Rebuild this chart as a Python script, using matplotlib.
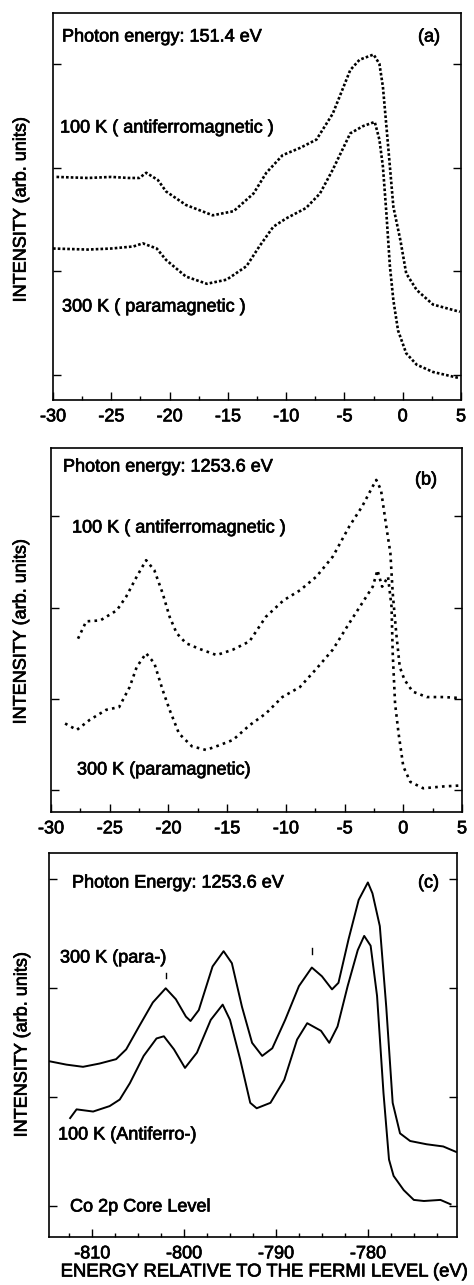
import numpy as np
import matplotlib
matplotlib.use('Agg')
from matplotlib import pyplot as plt
from matplotlib import patheffects as pe
from matplotlib.ticker import MultipleLocator, NullFormatter

plt.rcParams['font.family'] = ['Liberation Sans', 'DejaVu Sans']
plt.rcParams['font.size'] = 13
plt.rcParams['axes.unicode_minus'] = False

# (a) hv = 151.4 eV
a_x_100 = [-29.7, -27, -25, -23.5, -22.6, -22, -21, -20.3, -18.6, -16.3, -14.5, -12.8, -11.7,
           -10.3, -8.8, -7.4, -6, -4.5, -3.7, -2.5, -2.0, -1.7, -1.4, -1.1, -0.8, -0.2, 0.3,
           1.2, 2.6, 4.9]
a_y_100 = [2.91, 2.90, 2.91, 2.90, 2.90, 2.95, 2.88, 2.77, 2.64, 2.54, 2.58, 2.75, 2.95,
           3.12, 3.19, 3.27, 3.52, 3.94, 4.04, 4.09, 4.00, 3.78, 3.40, 3.01, 2.62, 2.30, 1.98,
           1.82, 1.68, 1.61]
a_x_300 = [-30, -27, -25, -23.1, -22.3, -21.1, -20.3, -18.6, -16.8, -15.1, -13.4, -12.3, -11.1,
           -10, -8.3, -7.1, -6, -4.5, -3.4, -2.4, -2.0, -1.7, -1.4, -1.1, -0.8, -0.4, 0.3,
           1.2, 2.6, 4.9]
a_y_300 = [2.22, 2.21, 2.22, 2.24, 2.27, 2.22, 2.11, 1.95, 1.88, 1.92, 2.05, 2.24, 2.43,
           2.51, 2.61, 2.75, 2.98, 3.33, 3.40, 3.44, 3.27, 3.01, 2.56, 2.05, 1.72, 1.43, 1.21,
           1.10, 1.03, 0.97]

# (b) hv = 1253.6 eV
b_x_100 = [-27.7, -27, -25.8, -24.4, -23.6, -22.7, -21.9, -21.2, -20.5, -19.9, -19.3, -18.5,
           -17.4, -15.9, -14.5, -13.1, -11.7, -10.2, -8.8, -7.4, -6, -4.6, -3.5, -2.6, -2.3,
           -1.9, -1.4, -1.1, -0.9, -0.6, -0.3, 0.1, 0.8, 2.0, 3.4, 4.8]
b_y_100 = [2.66, 2.85, 2.86, 2.97, 3.12, 3.34, 3.52, 3.41, 3.16, 2.90, 2.72, 2.61,
           2.55, 2.48, 2.54, 2.63, 2.90, 3.08, 3.19, 3.34, 3.56, 3.89, 4.11, 4.33, 4.40,
           4.29, 3.85, 3.60, 3.16, 2.72, 2.35, 2.21, 2.08, 2.02, 2.02, 2.01]
b_x_300 = [-28.8, -27.8, -26.7, -25.3, -24.2, -23.3, -22.7, -21.9, -21.2, -20.5, -19.9, -19.1,
           -18.0, -16.8, -15.7, -14.5, -13.1, -11.7, -10.3, -8.8, -7.4, -6, -4.6, -3.5, -2.6,
           -2.2, -1.8, -1.3, -1.0, -0.9, -0.7, -0.4, 0.0, 0.6, 1.7, 3.4, 4.8]
b_y_300 = [1.73, 1.66, 1.77, 1.88, 1.91, 2.13, 2.35, 2.50, 2.39, 2.10, 1.88, 1.62,
           1.48, 1.44, 1.49, 1.55, 1.71, 1.84, 2.02, 2.13, 2.33, 2.54, 2.83, 3.05, 3.23,
           3.41, 3.23, 3.34, 3.01, 2.50, 1.95, 1.62, 1.26, 1.09, 1.02, 1.04, 1.05]

# (c) Co 2p core level
c_x_300 = [-814.6, -812.8, -811, -809.2, -807.4, -806.3, -804.9, -803.4, -802, -800.9, -799.8,
           -799.3, -798.4, -796.9, -795.7, -794.8, -793.7, -792.6, -791.5, -790.4, -789,
           -787.5, -786.1, -785, -783.9, -783.2, -782.1, -781.0, -780, -779.5, -778.7, -778,
           -777.3, -776.5, -775.4, -773.6, -771.8, -770.4]
c_y_300 = [2.33, 2.30, 2.28, 2.31, 2.35, 2.44, 2.65, 2.87, 3.00, 2.90, 2.74,
           2.70, 2.80, 3.20, 3.34, 3.23, 2.83, 2.50, 2.38, 2.45, 2.71,
           3.02, 3.19, 3.11, 2.99, 3.05, 3.45, 3.81, 3.97, 3.87, 3.57, 2.83,
           1.95, 1.67, 1.60, 1.57, 1.55, 1.50]
c_x_100 = [-812.4, -811.7, -809.9, -808.1, -807, -805.9, -804.4, -803, -802.2, -801.1, -799.9,
           -798.6, -797.1, -795.8, -795, -793.9, -792.8, -792.1, -790.6, -789.1, -787.7,
           -786.6, -785.1, -784.2, -783.3, -782.2, -781.1, -780.4, -779.7, -779, -778.3,
           -777.7, -777.2, -776.1, -775.0, -773.9, -772.1, -771]
c_y_100 = [1.81, 1.89, 1.87, 1.92, 1.98, 2.13, 2.38, 2.54, 2.56, 2.44, 2.27,
           2.41, 2.71, 2.85, 2.71, 2.35, 1.95, 1.90, 1.95, 2.16, 2.53,
           2.68, 2.61, 2.50, 2.65, 3.02, 3.35, 3.48, 3.39, 2.93, 2.04,
           1.43, 1.28, 1.15, 1.06, 1.05, 1.06, 1.02]
c_marks_x = [-802, -786.1]
c_marks_y = [(3.09, 3.14), (3.31, 3.37)]

W, H = 474, 1285
fig = plt.figure(figsize=(W / 100, H / 100), dpi=100)
heavy = [pe.withStroke(linewidth=0.5, foreground='k')]


def make_ax(l, r, t, b):
    ax = fig.add_axes([l / W, 1 - b / H, (r - l) / W, (b - t) / H])
    for s in ax.spines.values():
        s.set_linewidth(1.2)
    ax.tick_params(which='both', direction='in', top=False, right=True, labelleft=False,
                   width=1.0, pad=6, labelsize=13)
    ax.tick_params(which='major', length=6)
    ax.tick_params(which='minor', length=3)
    ax.yaxis.set_major_locator(MultipleLocator(1))
    ax.yaxis.set_minor_locator(plt.NullLocator())
    return ax


def finish_ticks(ax):
    for lab in ax.get_xticklabels():
        lab.set_path_effects(heavy)


def ftext(x, y, s, size=13, **kw):
    fig.text(x / W, 1 - y / H, s, va='center', fontsize=size, path_effects=heavy, **kw)


# panel (a)
ax = make_ax(53, 461, 13, 400)
ax.plot(a_x_100, a_y_100, color='k', ls=(0, (1, 0.8)), lw=1.9)
ax.plot(a_x_300, a_y_300, color='k', ls=(0, (1, 0.8)), lw=1.9)
ax.set_xlim(-30, 5)
ax.set_ylim(0.76, 4.49)
ax.xaxis.set_major_locator(MultipleLocator(5))
ax.xaxis.set_minor_locator(MultipleLocator(2.5))
finish_ticks(ax)
ftext(62, 37, 'Photon energy: 151.4 eV')
ftext(418, 37, '(a)')
ftext(60, 128, '100 K ( antiferromagnetic )')
ftext(62, 307, '300 K ( paramagnetic )')
ftext(21, 210, 'INTENSITY (arb. units)', rotation=90, ha='center')

# panel (b)
ax = make_ax(51, 462, 448, 812)
ax.plot(b_x_100, b_y_100, color='k', ls=(0, (1, 1.6)), lw=1.9)
ax.plot(b_x_300, b_y_300, color='k', ls=(0, (1, 1.6)), lw=1.9)
ax.set_xlim(-30, 5)
ax.set_ylim(0.76, 4.75)
ax.xaxis.set_major_locator(MultipleLocator(5))
ax.xaxis.set_minor_locator(MultipleLocator(2.5))
finish_ticks(ax)
ftext(63, 467, 'Photon energy: 1253.6 eV')
ftext(415, 480, '(b)')
ftext(72, 528, '100 K ( antiferromagnetic )')
ftext(77, 770, '300 K (paramagnetic)')
ftext(21, 632, 'INTENSITY (arb. units)', rotation=90, ha='center')

# panel (c)
ax = make_ax(49, 457, 853, 1237)
ax.plot(c_x_300, c_y_300, color='k', lw=1.4)
ax.plot(c_x_100, c_y_100, color='k', lw=1.4)
for mx, (y0, y1) in zip(c_marks_x, c_marks_y):
    ax.plot([mx, mx], [y0, y1], color='k', lw=1.0)
ax.set_xlim(-814.7, -770.3)
ax.set_ylim(0.72, 4.24)
ax.xaxis.set_major_locator(MultipleLocator(10))
ax.xaxis.set_minor_locator(MultipleLocator(2.5))
ax.xaxis.set_minor_formatter(NullFormatter())
finish_ticks(ax)
ftext(72, 883, 'Photon Energy: 1253.6 eV')
ftext(418, 883, '(c)')
ftext(60, 958, '300 K (para-)')
ftext(58, 1135, '100 K (Antiferro-)')
ftext(70, 1207, 'Co 2p Core Level')
ftext(22, 1045, 'INTENSITY (arb. units)', rotation=90, ha='center')
ftext(264, 1272, 'ENERGY RELATIVE TO THE FERMI LEVEL (eV)', size=13.3, ha='center')

fig.savefig('out.png', dpi=100)
